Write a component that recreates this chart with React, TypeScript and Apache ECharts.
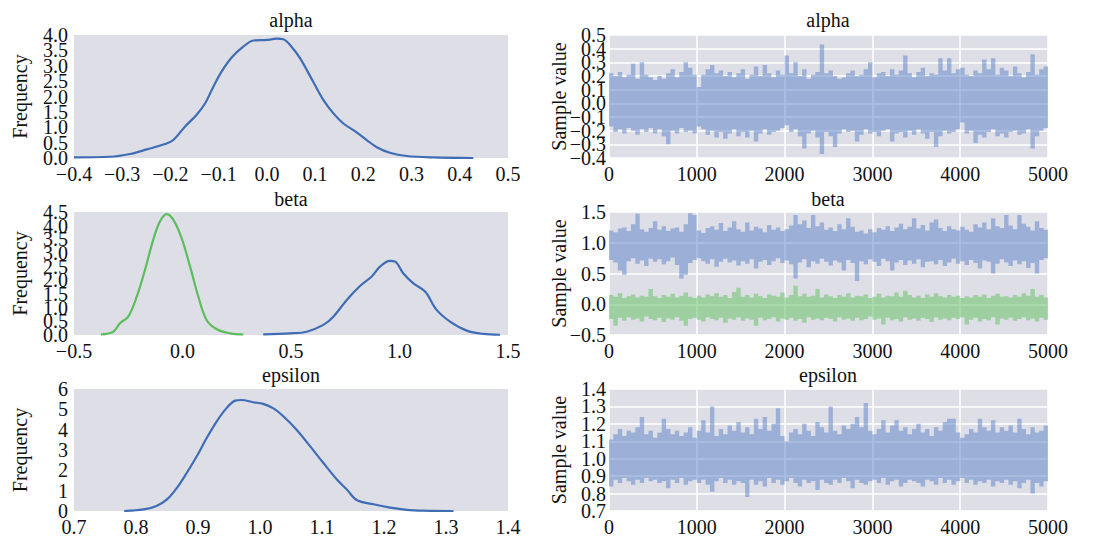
import React, { useEffect, useRef } from "react";
import * as echarts from "echarts";

// ---------- KDE curves (x, density) ----------
const alphaKdeX = [-0.4, -0.325, -0.284, -0.249, -0.211, -0.194, -0.17, -0.146, -0.128, -0.111, -0.094, -0.073, -0.049, -0.028, 0.0, 0.02, 0.034, 0.051, 0.069, 0.096, 0.117, 0.138, 0.158, 0.186, 0.207, 0.228, 0.255, 0.29, 0.345, 0.428];
const alphaKdeY = [0.02, 0.04, 0.13, 0.28, 0.455, 0.585, 1.02, 1.4, 1.78, 2.32, 2.81, 3.27, 3.62, 3.82, 3.84, 3.88, 3.86, 3.62, 3.24, 2.48, 1.89, 1.45, 1.13, 0.835, 0.585, 0.35, 0.17, 0.065, 0.02, 0.0];

const betaGreenKdeX = [-0.376, -0.319, -0.288, -0.25, -0.211, -0.173, -0.135, -0.104, -0.073, -0.042, -0.004, 0.035, 0.073, 0.111, 0.158, 0.219, 0.28];
const betaGreenKdeY = [0.02, 0.12, 0.43, 0.67, 1.4, 2.38, 3.48, 4.15, 4.42, 4.21, 3.54, 2.5, 1.4, 0.55, 0.21, 0.06, 0.02];

const betaBlueKdeX = [0.372, 0.495, 0.572, 0.649, 0.695, 0.757, 0.818, 0.872, 0.91, 0.956, 0.979, 1.017, 1.064, 1.118, 1.171, 1.233, 1.31, 1.386, 1.463];
const betaBlueKdeY = [0.02, 0.06, 0.12, 0.37, 0.67, 1.28, 1.79, 2.14, 2.5, 2.71, 2.69, 2.26, 1.89, 1.59, 0.92, 0.49, 0.16, 0.04, 0.01];

const epsKdeX = [0.781, 0.812, 0.833, 0.85, 0.866, 0.882, 0.898, 0.914, 0.93, 0.946, 0.96, 0.97, 0.989, 1.005, 1.021, 1.038, 1.059, 1.081, 1.102, 1.124, 1.14, 1.156, 1.183, 1.21, 1.237, 1.263, 1.312];
const epsKdeY = [0.0, 0.08, 0.25, 0.57, 1.14, 1.88, 2.69, 3.59, 4.4, 5.06, 5.43, 5.46, 5.35, 5.27, 5.06, 4.65, 4.0, 3.18, 2.37, 1.55, 1.06, 0.54, 0.33, 0.17, 0.06, 0.02, 0.0];

// ---------- Traces: per 50-iteration block, the highest and lowest sample seen ----------
const BLOCK = 50;

const alphaHi = [
  0.22, 0.2, 0.23, 0.19, 0.21, 0.29, 0.18, 0.3, 0.21, 0.19,
  0.17, 0.2, 0.18, 0.22, 0.25, 0.19, 0.23, 0.3, 0.26, 0.21,
  0.12, 0.21, 0.25, 0.28, 0.22, 0.24, 0.2, 0.23, 0.19, 0.22,
  0.25, 0.18, 0.21, 0.27, 0.2, 0.28, 0.22, 0.19, 0.24, 0.21,
  0.35, 0.22, 0.3, 0.2, 0.25, 0.18, 0.21, 0.23, 0.43, 0.22,
  0.24, 0.2, 0.18, 0.19, 0.22, 0.24, 0.2, 0.21, 0.25, 0.3,
  0.19, 0.22, 0.23, 0.2, 0.25, 0.21, 0.24, 0.35, 0.22, 0.19,
  0.23, 0.26, 0.2, 0.22, 0.21, 0.33, 0.24, 0.33, 0.22, 0.25,
  0.26, 0.21, 0.2, 0.24, 0.22, 0.32, 0.25, 0.33, 0.21, 0.26,
  0.24, 0.2, 0.27, 0.22, 0.19, 0.23, 0.36, 0.21, 0.25, 0.27,
];
const alphaLo = [
  -0.17, -0.21, -0.19, -0.22, -0.18, -0.2, -0.23, -0.19, -0.21, -0.18,
  -0.22, -0.19, -0.24, -0.3, -0.2, -0.22, -0.18, -0.21, -0.2, -0.22,
  -0.17, -0.19, -0.23, -0.2, -0.25, -0.21, -0.26, -0.22, -0.19, -0.24,
  -0.21, -0.25, -0.2, -0.28, -0.22, -0.19, -0.23, -0.21, -0.2, -0.18,
  -0.16, -0.21, -0.19, -0.24, -0.33, -0.22, -0.2, -0.25, -0.37, -0.21,
  -0.24, -0.32, -0.22, -0.19, -0.21, -0.2, -0.28, -0.23, -0.19, -0.22,
  -0.21, -0.24, -0.2, -0.19, -0.28, -0.22, -0.21, -0.25, -0.2, -0.23,
  -0.19, -0.22, -0.26, -0.21, -0.32, -0.24, -0.2, -0.22, -0.21, -0.19,
  -0.14, -0.22, -0.2, -0.29, -0.23, -0.25, -0.21, -0.19, -0.24, -0.22,
  -0.25, -0.21, -0.2, -0.23, -0.22, -0.19, -0.33, -0.24, -0.2, -0.18,
];

const betaBlueHi = [
  1.2, 1.17, 1.23, 1.25, 1.19, 1.3, 1.47, 1.22, 1.18, 1.24,
  1.35, 1.21, 1.27, 1.19, 1.23, 1.25, 1.18, 1.3, 1.48, 1.45,
  1.2, 1.16, 1.24, 1.27, 1.21, 1.32, 1.19, 1.25, 1.35, 1.22,
  1.18, 1.33, 1.2, 1.26, 1.23, 1.17, 1.29, 1.21, 1.25, 1.19,
  1.22, 1.28, 1.45, 1.3, 1.36, 1.24, 1.45, 1.27, 1.33, 1.21,
  1.25, 1.19, 1.3, 1.22, 1.4, 1.26, 1.18, 1.2, 1.15, 1.22,
  1.17, 1.24, 1.21, 1.27, 1.19, 1.25, 1.31, 1.22, 1.26, 1.4,
  1.23, 1.29, 1.2, 1.33, 1.38, 1.24, 1.19, 1.27, 1.22, 1.2,
  1.26, 1.21, 1.18, 1.3, 1.25, 1.33, 1.22, 1.4, 1.27, 1.24,
  1.45, 1.28, 1.22, 1.45, 1.31, 1.26, 1.2, 1.35, 1.24, 1.21,
];
const betaBlueLo = [
  0.72, 0.68, 0.55, 0.48, 0.7, 0.75, 0.66, 0.71, 0.62, 0.74,
  0.69, 0.73, 0.65, 0.7, 0.76, 0.64, 0.42, 0.48, 0.67, 0.72,
  0.75, 0.7, 0.66, 0.73, 0.61, 0.69, 0.74, 0.68, 0.71, 0.63,
  0.7, 0.66, 0.73, 0.58, 0.69, 0.72, 0.64, 0.7, 0.75, 0.67,
  0.71, 0.65, 0.42, 0.68, 0.73, 0.6, 0.7, 0.66, 0.74, 0.69,
  0.63, 0.71, 0.68, 0.55, 0.72, 0.67, 0.38, 0.7, 0.65, 0.73,
  0.69, 0.62, 0.74, 0.7, 0.55, 0.68, 0.72, 0.64, 0.71, 0.66,
  0.73, 0.6, 0.69, 0.7, 0.65, 0.72, 0.62, 0.68, 0.74, 0.66,
  0.7, 0.64, 0.72, 0.67, 0.58, 0.71, 0.69, 0.5, 0.66, 0.73,
  0.68, 0.62, 0.71, 0.65, 0.7, 0.59, 0.67, 0.5, 0.72, 0.75,
];
const betaGreenHi = [
  0.15, 0.12, 0.18, 0.1, 0.13, 0.16, 0.11, 0.14, 0.12, 0.25,
  0.13, 0.1, 0.15, 0.12, 0.17, 0.11, 0.14, 0.19, 0.12, 0.1,
  0.14, 0.11, 0.16, 0.13, 0.18, 0.12, 0.15, 0.1, 0.2, 0.27,
  0.12, 0.15, 0.11, 0.17, 0.13, 0.1, 0.16, 0.14, 0.12, 0.19,
  0.11, 0.15, 0.3, 0.13, 0.17, 0.12, 0.14, 0.25, 0.11, 0.16,
  0.13, 0.1, 0.15, 0.12, 0.18, 0.11, 0.14, 0.13, 0.16, 0.1,
  0.12, 0.17, 0.11, 0.14, 0.13, 0.19, 0.12, 0.22, 0.15, 0.11,
  0.14, 0.1, 0.16, 0.12, 0.18, 0.13, 0.11, 0.15, 0.12, 0.14,
  0.1, 0.13, 0.11, 0.15, 0.12, 0.16, 0.1, 0.14, 0.17, 0.12,
  0.13, 0.11, 0.15, 0.12, 0.18, 0.14, 0.25, 0.12, 0.15, 0.11,
];
const betaGreenLo = [
  -0.24, -0.35, -0.22, -0.27, -0.21, -0.25, -0.23, -0.28, -0.2, -0.24,
  -0.26, -0.22, -0.29, -0.23, -0.25, -0.21, -0.27, -0.35, -0.24, -0.22,
  -0.25, -0.28, -0.21, -0.24, -0.26, -0.22, -0.3, -0.23, -0.25, -0.21,
  -0.27, -0.23, -0.25, -0.35, -0.22, -0.26, -0.24, -0.21, -0.28, -0.23,
  -0.25, -0.22, -0.27, -0.24, -0.3, -0.21, -0.25, -0.23, -0.26, -0.22,
  -0.24, -0.28, -0.21, -0.25, -0.23, -0.27, -0.22, -0.26, -0.24, -0.2,
  -0.25, -0.23, -0.33, -0.22, -0.26, -0.24, -0.28, -0.21, -0.25, -0.23,
  -0.27, -0.22, -0.24, -0.29, -0.21, -0.25, -0.23, -0.26, -0.22, -0.24,
  -0.21, -0.33, -0.25, -0.22, -0.28, -0.24, -0.26, -0.21, -0.33, -0.23,
  -0.25, -0.22, -0.27, -0.24, -0.21, -0.26, -0.23, -0.28, -0.22, -0.25,
];

const epsHi = [
  1.11, 1.14, 1.17, 1.13, 1.16, 1.15, 1.18, 1.24, 1.14, 1.16,
  1.12, 1.15, 1.23, 1.17, 1.14, 1.16, 1.13, 1.15, 1.18, 1.12,
  1.16, 1.22, 1.15, 1.3, 1.13, 1.17, 1.14, 1.19, 1.16, 1.21,
  1.15, 1.18, 1.14, 1.23, 1.17, 1.24, 1.16, 1.2, 1.29, 1.13,
  1.1, 1.15, 1.17, 1.14, 1.2, 1.16, 1.13, 1.21, 1.18, 1.15,
  1.3, 1.16, 1.14, 1.19, 1.17, 1.2, 1.24, 1.18, 1.32, 1.16,
  1.14, 1.17, 1.22, 1.15, 1.19, 1.22, 1.16, 1.18, 1.14, 1.17,
  1.2, 1.15, 1.17, 1.13, 1.18, 1.16, 1.21, 1.23, 1.23, 1.15,
  1.12, 1.14, 1.17, 1.15, 1.23, 1.18, 1.16, 1.22, 1.15, 1.18,
  1.16, 1.19, 1.15, 1.23, 1.17, 1.14, 1.18, 1.15, 1.16, 1.19,
];
const epsLo = [
  0.84, 0.88, 0.86, 0.89, 0.87, 0.85, 0.88, 0.86, 0.89, 0.87,
  0.88, 0.86, 0.87, 0.83, 0.88, 0.86, 0.89, 0.85, 0.87, 0.88,
  0.86, 0.88, 0.85, 0.81, 0.87, 0.89, 0.86, 0.88, 0.85, 0.87,
  0.86, 0.78, 0.88, 0.85, 0.87, 0.84, 0.89, 0.86, 0.88, 0.85,
  0.87, 0.89, 0.86, 0.84, 0.88, 0.86, 0.87, 0.82, 0.88, 0.86,
  0.85, 0.88, 0.86, 0.89, 0.87, 0.83, 0.88, 0.86, 0.85, 0.87,
  0.88, 0.86, 0.89, 0.85, 0.87, 0.88, 0.84, 0.86, 0.88, 0.87,
  0.86, 0.84, 0.88, 0.87, 0.85, 0.89, 0.86, 0.88, 0.85, 0.87,
  0.89, 0.86, 0.88, 0.85, 0.87, 0.86, 0.88, 0.84, 0.87, 0.86,
  0.88, 0.85, 0.87, 0.83, 0.86, 0.88, 0.8, 0.86, 0.84, 0.87,
];

// ---------- Tick labels (bottom to top for y) ----------
const alphaDensityTicks = ["0.0", "0.5", "1.0", "1.5", "2.0", "2.5", "3.0", "3.5", "4.0"];
const betaDensityTicks = ["0.0", "0.5", "1.0", "1.5", "2.0", "2.5", "3.0", "3.5", "4.0", "4.5"];
const epsDensityTicks = ["0", "1", "2", "3", "4", "5", "6"];
const alphaTraceTicks = ["\u22120.4", "\u22120.3", "\u22120.2", "\u22120.1", "0.0", "0.1", "0.2", "0.3", "0.4", "0.5"];
const betaTraceTicks = ["\u22120.5", "0.0", "0.5", "1.0", "1.5"];
const epsTraceTicks = ["0.7", "0.8", "0.9", "1.0", "1.1", "1.2", "1.3", "1.4"];

const titles = ["alpha", "beta", "epsilon"];

const FONT = "'Liberation Serif', 'Times New Roman', serif";
const BG = "#dedee6";
const BLUE = "#3f6db5";
const GREEN = "#5cbd5c";
const BAND_BLUE = "#5a82c8";
const BAND_GREEN = "#5cbf5c";

const fmt1 = (v: number) => (v < 0 ? "\u2212" : "") + Math.abs(v).toFixed(1);
const pairs = (xs: number[], ys: number[]) => xs.map((x, i) => [x, ys[i]]);

function traceBand(hi: number[], lo: number[], axis: number, color: string) {
  const data = hi.map((h, i) => [i * BLOCK, lo[i], h]);
  return {
    type: "custom",
    xAxisIndex: axis,
    yAxisIndex: axis,
    data,
    silent: true,
    encode: { x: 0, y: [1, 2] },
    renderItem: (params: any, api: any) => {
      if (params.dataIndex !== 0) return null;
      const top: number[][] = [];
      const bottom: number[][] = [];
      for (let i = 0; i < hi.length; i++) {
        const x0 = i * BLOCK;
        const x1 = (i + 1) * BLOCK;
        top.push(api.coord([x0, hi[i]]), api.coord([x1, hi[i]]));
        bottom.push(api.coord([x0, lo[i]]), api.coord([x1, lo[i]]));
      }
      return {
        type: "polygon",
        shape: { points: top.concat(bottom.reverse()) },
        style: { fill: color, opacity: 0.5 },
      };
    },
  };
}

function kde(xs: number[], ys: number[], axis: number, color: string) {
  return {
    type: "line",
    xAxisIndex: axis,
    yAxisIndex: axis,
    data: pairs(xs, ys),
    smooth: 0.35,
    symbol: "none",
    silent: true,
    lineStyle: { color, width: 2.2 },
    z: 5,
  };
}

export default function App() {
  const ref = useRef<HTMLDivElement>(null);
  useEffect(() => {
    if (!ref.current) return;
    const chart = echarts.init(ref.current, undefined, { renderer: "svg" });

    const rowsTop = [35, 212, 389];
    const rowsH = [123, 123, 124];
    const grids: any[] = [];
    rowsTop.forEach((t, r) => {
      grids.push({ left: 74, top: t, width: 434, height: rowsH[r], show: true, backgroundColor: BG, borderWidth: 0 });
      grids.push({ left: 609, top: t, width: 439, height: rowsH[r], show: true, backgroundColor: BG, borderWidth: 0 });
    });

    const labelStyle = { fontFamily: FONT, fontSize: 20, color: "#111", margin: 6 };
    const nameStyle = { fontFamily: FONT, fontSize: 20, color: "#111" };

    const leftX = [
      { min: -0.4, max: 0.5, interval: 0.1 },
      { min: -0.5, max: 1.5, interval: 0.5 },
      { min: 0.7, max: 1.4, interval: 0.1 },
    ];
    const leftY = [
      { min: 0, max: 4, interval: 0.5 },
      { min: 0, max: 4.5, interval: 0.5 },
      { min: 0, max: 6, interval: 1 },
    ];
    const rightY = [
      { min: -0.4, max: 0.5, interval: 0.1 },
      { min: -0.5, max: 1.5, interval: 0.5 },
      { min: 0.7, max: 1.4, interval: 0.1 },
    ];
    const leftTicks = [alphaDensityTicks, betaDensityTicks, epsDensityTicks];
    const rightTicks = [alphaTraceTicks, betaTraceTicks, epsTraceTicks];

    const xAxes: any[] = [];
    const yValue: any[] = [];
    const yLabel: any[] = [];
    for (let r = 0; r < 3; r++) {
      xAxes.push({
        type: "value",
        gridIndex: 2 * r,
        min: leftX[r].min,
        max: leftX[r].max,
        interval: leftX[r].interval,
        axisLine: { show: false },
        axisTick: { show: false },
        splitLine: { show: false },
        axisLabel: { ...labelStyle, formatter: fmt1 },
      });
      xAxes.push({
        type: "value",
        gridIndex: 2 * r + 1,
        min: 0,
        max: 5000,
        interval: 1000,
        axisLine: { show: false },
        axisTick: { show: false },
        splitLine: { show: true, lineStyle: { color: "#ffffff", width: 1.5 } },
        axisLabel: { ...labelStyle, formatter: (v: number) => String(Math.round(v)) },
      });
      yValue.push({
        type: "value",
        gridIndex: 2 * r,
        min: leftY[r].min,
        max: leftY[r].max,
        interval: leftY[r].interval,
        axisLine: { show: false },
        axisTick: { show: false },
        splitLine: { show: false },
        axisLabel: { show: false },
      });
      yValue.push({
        type: "value",
        gridIndex: 2 * r + 1,
        min: rightY[r].min,
        max: rightY[r].max,
        interval: rightY[r].interval,
        axisLine: { show: false },
        axisTick: { show: false },
        splitLine: { show: true, lineStyle: { color: "#ffffff", width: 1.5 } },
        axisLabel: { show: false },
      });
      yLabel.push({
        type: "category",
        gridIndex: 2 * r,
        position: "left",
        data: leftTicks[r],
        boundaryGap: false,
        name: "Frequency",
        nameLocation: "middle",
        nameGap: 44,
        nameMoveOverlap: false,
        nameTextStyle: nameStyle,
        axisLine: { show: false },
        axisTick: { show: false },
        splitLine: { show: false },
        axisLabel: { ...labelStyle, interval: 0 },
      });
      yLabel.push({
        type: "category",
        gridIndex: 2 * r + 1,
        position: "left",
        data: rightTicks[r],
        boundaryGap: false,
        name: "Sample value",
        nameLocation: "middle",
        nameGap: 40,
        nameMoveOverlap: false,
        nameTextStyle: nameStyle,
        axisLine: { show: false },
        axisTick: { show: false },
        splitLine: { show: false },
        axisLabel: { ...labelStyle, margin: 3, interval: 0 },
      });
    }

    const series: any[] = [
      kde(alphaKdeX, alphaKdeY, 0, BLUE),
      traceBand(alphaHi, alphaLo, 1, BAND_BLUE),
      kde(betaGreenKdeX, betaGreenKdeY, 2, GREEN),
      kde(betaBlueKdeX, betaBlueKdeY, 2, BLUE),
      traceBand(betaBlueHi, betaBlueLo, 3, BAND_BLUE),
      traceBand(betaGreenHi, betaGreenLo, 3, BAND_GREEN),
      kde(epsKdeX, epsKdeY, 4, BLUE),
      traceBand(epsHi, epsLo, 5, BAND_BLUE),
    ];

    const titleY = [20, 199, 375];
    const graphic: any[] = [];
    titles.forEach((t, r) => {
      [291, 828].forEach((cx) => {
        graphic.push({
          type: "text",
          x: cx,
          y: titleY[r],
          silent: true,
          style: {
            text: t,
            fontFamily: FONT,
            fontSize: 20,
            fill: "#111",
            textAlign: "center",
            textVerticalAlign: "middle",
          },
        });
      });
    });

    chart.setOption({
      animation: false,
      backgroundColor: "#ffffff",
      grid: grids,
      xAxis: xAxes,
      yAxis: [...yValue, ...yLabel],
      series,
      graphic,
    });
    return () => chart.dispose();
  }, []);

  return (
    <div
      ref={ref}
      style={{ position: "fixed", left: 0, top: 0, width: 1099, height: 537, background: "#fff" }}
    />
  );
}
